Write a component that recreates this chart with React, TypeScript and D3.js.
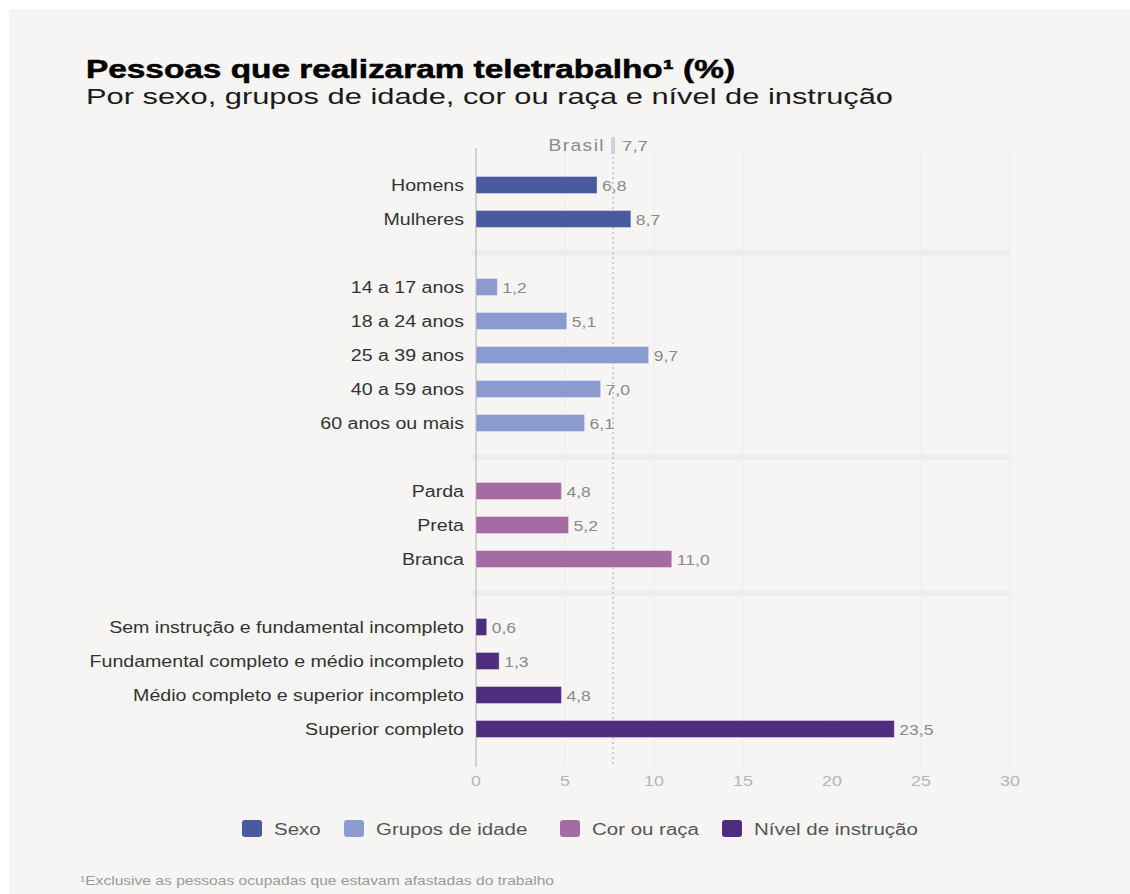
import React from "react";
import * as d3 from "d3";

const groups = ["Sexo", "Grupos de idade", "Cor ou raça", "Nível de instrução"];
const groupColors = ["#4a5a9e", "#8b9bcf", "#a56ca3", "#4e2d7e"];

const categories = [
  "Homens", "Mulheres",
  "14 a 17 anos", "18 a 24 anos", "25 a 39 anos", "40 a 59 anos", "60 anos ou mais",
  "Parda", "Preta", "Branca",
  "Sem instrução e fundamental incompleto", "Fundamental completo e médio incompleto",
  "Médio completo e superior incompleto", "Superior completo",
];
const values = [6.8, 8.7, 1.2, 5.1, 9.7, 7.0, 6.1, 4.8, 5.2, 11.0, 0.6, 1.3, 4.8, 23.5];
const categoryGroup = [0, 0, 1, 1, 1, 1, 1, 2, 2, 2, 3, 3, 3, 3];
const brasil = 7.7;
const xTicks = [0, 5, 10, 15, 20, 25, 30];

const W = 1130, H = 894;
const FONT = "'Liberation Sans', Arial, sans-serif";

type TProps = {
  x: number; y: number; sx?: number; anchor?: string; children: React.ReactNode;
  [k: string]: any;
};
function T({ x, y, sx = 1, anchor = "start", children, ...rest }: TProps) {
  return (
    <text transform={`translate(${x},${y}) scale(${sx},1)`} textAnchor={anchor} {...rest}>
      {children}
    </text>
  );
}

export default function App() {
  const x = d3.scaleLinear().domain([0, 30]).range([476, 1010]);
  const slots: string[] = [];
  const gapSlots: string[] = [];
  categories.forEach((c, i) => {
    if (i > 0 && categoryGroup[i] !== categoryGroup[i - 1]) {
      const g = "gap" + i;
      slots.push(g);
      gapSlots.push(g);
    }
    slots.push(c);
  });
  const y = d3.scaleBand().domain(slots).range([168, 746]).paddingInner(0.5).paddingOuter(0.25);
  const bh = 17;
  const yc = (k: string) => (y(k) as number) + y.bandwidth() / 2;
  const top = 148, bottom = 767;
  const fmt = (v: number) => v.toFixed(1).replace(".", ",");
  const legendX = [242, 344, 560, 722];

  return (
    <div style={{ position: "absolute", left: 0, top: 0 }}>
      <svg width={W} height={H} style={{ display: "block", fontFamily: FONT }}>
        <rect x={0} y={0} width={W} height={H} fill="#ffffff" />
        <rect x={9} y={9} width={W - 9} height={H - 9} fill="#f6f5f3" />
        <text x={86} y={78} fontSize={25} fontWeight="bold" fill="#000" stroke="#000" strokeWidth={0.5} textLength={649} lengthAdjust="spacingAndGlyphs">
          Pessoas que realizaram teletrabalho¹ (%)
        </text>
        <text x={86} y={104} fontSize={21.5} fill="#1a1a1a" textLength={807} lengthAdjust="spacingAndGlyphs">
          Por sexo, grupos de idade, cor ou raça e nível de instrução
        </text>
        {xTicks.filter((t) => t > 0).map((t) => (
          <line key={t} x1={x(t)} x2={x(t)} y1={top} y2={bottom} stroke="#ecebe9" strokeWidth={1} />
        ))}
        {gapSlots.map((g) => (
          <rect key={g} x={472} width={x(30) - 472} y={yc(g) - 3} height={6} fill="#eeedeb" />
        ))}
        <line x1={x(0)} x2={x(0)} y1={top} y2={bottom} stroke="#c4c4c4" strokeWidth={1.5} />
        <line x1={x(brasil)} x2={x(brasil)} y1={157} y2={bottom} stroke="#c9c9df" strokeWidth={2} strokeDasharray="2,3" />
        <rect x={x(brasil) - 2} y={137} width={4} height={17} fill="#cfcfe3" />
        <T x={x(brasil) - 8} y={151} sx={1.2} anchor="end" fontSize={16} fill="#8a8a8a" letterSpacing={1.2}>Brasil</T>
        <T x={x(brasil) + 9} y={151} sx={1.2} fontSize={15.5} fill="#8a8a8a">{fmt(brasil)}</T>
        {categories.map((c, i) => (
          <g key={c}>
            <rect
              x={x(0)}
              y={yc(c) - bh / 2}
              width={x(values[i]) - x(0)}
              height={bh}
              fill={groupColors[categoryGroup[i]]}
              stroke="#ffffff"
              strokeOpacity={0.35}
              strokeWidth={1}
            />
            <T x={464} y={yc(c) + 5.5} sx={1.225} anchor="end" fontSize={16} fill="#333">{c}</T>
            <T x={x(values[i]) + 5} y={yc(c) + 5.5} sx={1.17} fontSize={15} fill="#8a8a8a">{fmt(values[i])}</T>
          </g>
        ))}
        {xTicks.map((t) => (
          <T key={t} x={x(t)} y={786} sx={1.19} anchor="middle" fontSize={15} fill="#b4b4b4">{t}</T>
        ))}
        {groups.map((g, i) => (
          <g key={g}>
            <rect x={legendX[i]} y={820} width={20} height={17} rx={3} fill={groupColors[i]} />
            <T x={legendX[i] + 32} y={834.5} sx={1.28} fontSize={16} fill="#555">{g}</T>
          </g>
        ))}
        <T x={80} y={885} sx={1.3} fontSize={12} fill="#9a9a9a">¹Exclusive as pessoas ocupadas que estavam afastadas do trabalho</T>
      </svg>
    </div>
  );
}
